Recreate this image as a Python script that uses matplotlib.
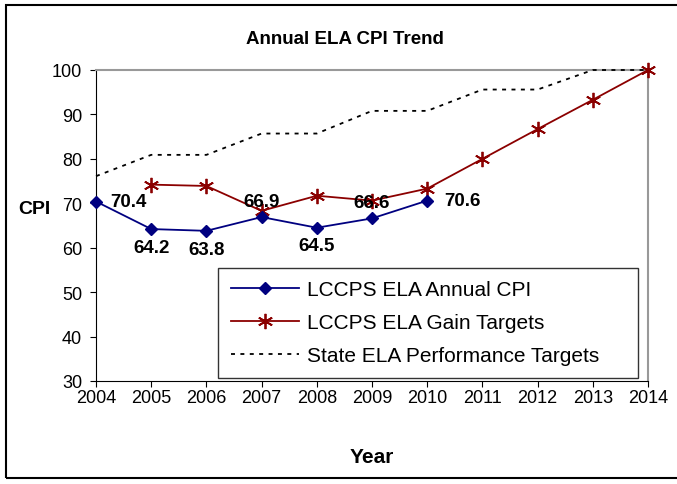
import matplotlib
matplotlib.use("Agg")
import matplotlib.pyplot as plt
from matplotlib.patches import Rectangle

plt.rcParams['font.family'] = ['Liberation Sans', 'DejaVu Sans']

# -----------------------
# DATA
# -----------------------
years = [2004, 2005, 2006, 2007, 2008, 2009, 2010, 2011, 2012, 2013, 2014]

annual_years = [2004, 2005, 2006, 2007, 2008, 2009, 2010]
annual_cpi = [70.4, 64.2, 63.8, 66.9, 64.5, 66.6, 70.6]

gain_years = [2005, 2006, 2007, 2008, 2009, 2010, 2011, 2012, 2013, 2014]
gain_targets = [74.2, 73.9, 68.3, 71.7, 70.6, 73.3, 80.0, 86.7, 93.3, 100.0]

state_targets = [76.1, 80.9, 80.9, 85.7, 85.7, 90.8, 90.8, 95.6, 95.6, 100.0, 100.0]

# label placement: (dx points, dy points, ha, va)
label_pos = {
    2004: (10, 0, 'left', 'center'),
    2005: (0, -7, 'center', 'top'),
    2006: (0, -7, 'center', 'top'),
    2007: (0, 5, 'center', 'bottom'),
    2008: (0, -7, 'center', 'top'),
    2009: (0, 5, 'center', 'bottom'),
    2010: (12, 0, 'left', 'center'),
}

# -----------------------
# PLOT
# -----------------------
fig = plt.figure(figsize=(6.77, 4.85), dpi=100)
ax = fig.add_axes([96 / 677, 1 - 382 / 485, (648 - 96) / 677, (382 - 71) / 485])

ax.plot(annual_years, annual_cpi, color='#000080', lw=1.3, marker='D', ms=6,
        label='LCCPS ELA Annual CPI', clip_on=False, zorder=5)
ax.plot(gain_years, gain_targets, color='#8B0000', lw=1.3, marker=(6, 2, 0), ms=11,
        mew=1.3, label='LCCPS ELA Gain Targets', clip_on=False, zorder=4)
ax.plot(years, state_targets, color='black', lw=1.3, ls=(0, (2.2, 3)),
        label='State ELA Performance Targets', clip_on=False, zorder=3)

for x, y in zip(annual_years, annual_cpi):
    dx, dy, ha, va = label_pos[x]
    ax.annotate(f"{y:.1f}", (x, y), xytext=(dx, dy), textcoords='offset points',
                ha=ha, va=va, fontsize=13.5, fontweight='bold', zorder=6)

ax.set_xlim(2004, 2014)
ax.set_ylim(30, 100)
ax.set_xticks(years)
ax.set_yticks(range(30, 101, 10))
ax.tick_params(labelsize=13, length=4, direction='out')
ax.tick_params(axis='x', pad=2)
ax.tick_params(axis='y', pad=6)

for s in ['top', 'right']:
    ax.spines[s].set_color('#999999')
    ax.spines[s].set_linewidth(1.5)
ax.spines['left'].set_color('black')
ax.spines['bottom'].set_color('black')

fig.text(345 / 677, 1 - 40 / 485, "Annual ELA CPI Trend", fontsize=13.5,
         fontweight='bold', ha='center', va='center')
fig.text(34 / 677, 1 - 210 / 485, "CPI", fontsize=14, fontweight='bold',
         ha='center', va='center')
fig.text(372 / 677, 1 - 458 / 485, "Year", fontsize=15, fontweight='bold',
         ha='center', va='center')

leg = ax.legend(loc='lower left',
                bbox_to_anchor=(218 / 677, 1 - 379 / 485, 420 / 677, 109 / 485),
                bbox_transform=fig.transFigure, mode='expand', fontsize=15,
                frameon=True, fancybox=False, edgecolor='black', handlelength=3.3,
                handletextpad=0.35, borderpad=0.6, labelspacing=0.68,
                borderaxespad=0)
leg.get_frame().set_linewidth(1.0)
leg.set_zorder(7)

fig.patches.append(Rectangle((6 / 677, 1 - 479 / 485), 700 / 677, 473 / 485,
                             transform=fig.transFigure, fill=False,
                             edgecolor='black', lw=1.5))

fig.savefig("out.png", dpi=100)
